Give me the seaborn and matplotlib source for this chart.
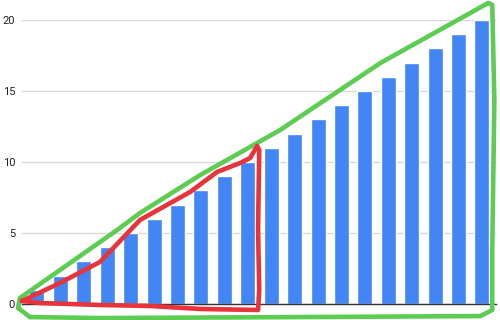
import matplotlib
matplotlib.use("Agg")
import matplotlib.pyplot as plt
import seaborn as sns
import pandas as pd

# ---- data ----
categories = [str(i) for i in range(1, 21)]
values = list(range(1, 21))
y_ticks = [0, 5, 10, 15, 20]

# ---- hand-drawn annotation outlines (data units) ----
red_x = [-0.64, 0.98, 2.69, 4.40, 6.54, 7.69, 8.68, 9.10, 9.40, 9.49, 9.44, 9.49, 9.44, 6.97, 4.83, 2.69, 0.13, -0.64]
red_y = [0.21, 1.48, 2.96, 5.92, 7.89, 9.30, 9.93, 10.28, 11.13, 10.85, 5.21, 0.99, -0.42, -0.35, -0.14, -0.07, 0.07, 0.21]
green_x = [-0.30, -0.81, -0.73, 0.98, 3.42, 4.40, 6.97, 10.38, 14.66, 19.27, 19.44, 19.53, 19.44, 19.44, 18.93, 11.24, 2.69, -0.30]
green_y = [-0.92, -0.28, 0.42, 2.39, 5.21, 6.41, 9.08, 12.25, 16.97, 21.20, 21.06, 14.37, 3.80, -0.42, -0.85, -0.92, -0.99, -0.92]

df = pd.DataFrame({"cat": categories, "val": values})

sns.set_theme(style="white")
plt.rcParams["font.family"] = ["Roboto", "DejaVu Sans"]

fig = plt.figure(figsize=(5, 3.2), dpi=100)
ax = fig.add_axes([0.044, 0.05, 0.948, 0.8875])

sns.barplot(data=df, x="cat", y="val", color="#4285f4", saturation=1,
            width=0.64, ax=ax, zorder=2)

ax.set_xlim(-0.64, 19.6)
ax.set_ylim(0, 20)
ax.set_yticks(y_ticks)
ax.set_yticklabels([str(t) for t in y_ticks], fontsize=8, color="#222222")
ax.set_xticks([])
ax.set_xlabel("")
ax.set_ylabel("")
ax.tick_params(axis="y", length=0, pad=5)
ax.yaxis.grid(True, color="#d9d9d9", linewidth=1, zorder=0)
ax.set_axisbelow(True)
for s in ["top", "right", "left"]:
    ax.spines[s].set_visible(False)
ax.spines["bottom"].set_color("#333333")
ax.spines["bottom"].set_linewidth(1)
ax.spines["bottom"].set_zorder(3)

ax.plot(green_x, green_y, color="#5ccd52", linewidth=3.3, clip_on=False,
        solid_joinstyle="round", solid_capstyle="round", zorder=5)
ax.plot(red_x, red_y, color="#e8333a", linewidth=3.3, clip_on=False,
        solid_joinstyle="round", solid_capstyle="round", zorder=6)

fig.savefig("out.png", dpi=100)
